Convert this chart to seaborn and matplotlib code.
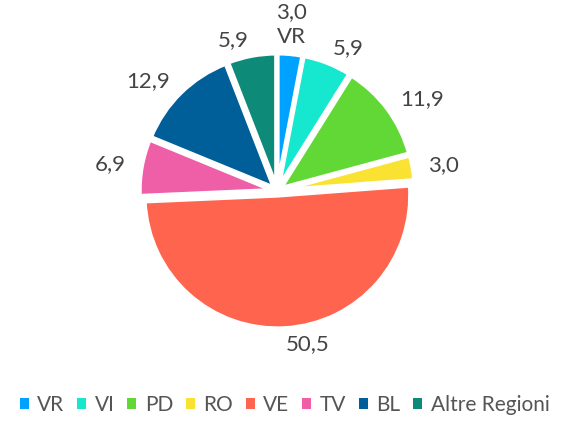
import matplotlib
matplotlib.use('Agg')
import matplotlib.pyplot as plt
import seaborn as sns
from matplotlib.patches import Patch

# data
regions = ['VR', 'VI', 'PD', 'RO', 'VE', 'TV', 'BL', 'Altre Regioni']
values = [3.0, 5.9, 11.9, 3.0, 50.5, 6.9, 12.9, 5.9]
colors = ['#00A2FF', '#16E7CF', '#61D836', '#FAE232', '#FF644E', '#EF5FA7', '#005F99', '#0E8A79']

sns.set_theme(style='white')
plt.rcParams['font.family'] = ['Lato', 'DejaVu Sans']

fig = plt.figure(figsize=(5.69, 4.21), dpi=100)
ax = fig.add_axes([0.195, 0.152, 0.584, 0.789])

labels = [f'{v:.1f}'.replace('.', ',') for v in values]
labels[0] = labels[0] + '\nVR'

wedges, texts = ax.pie(values, colors=colors, startangle=90, counterclock=False,
                       labels=labels, labeldistance=1.12, explode=[0.035] * len(values),
                       wedgeprops=dict(edgecolor='white', linewidth=3),
                       textprops=dict(color='#444444', fontsize=16))
texts[0].set_horizontalalignment('center')
texts[0].set_linespacing(1.3)
texts[0].set_y(texts[0].get_position()[1] + 0.1)
ax.set_xlim(-1.25, 1.25)
ax.set_ylim(-1.25, 1.25)
ax.set_aspect('equal')

handles = [Patch(facecolor=c, edgecolor='none') for c in colors]
fig.legend(handles, regions, loc='lower center', ncol=8, frameon=False,
           bbox_to_anchor=(0.5, -0.03), handlelength=0.45, handleheight=0.45,
           handletextpad=0.4, columnspacing=0.6, labelcolor='#555555', fontsize=15)

fig.savefig('out.png', dpi=100)
